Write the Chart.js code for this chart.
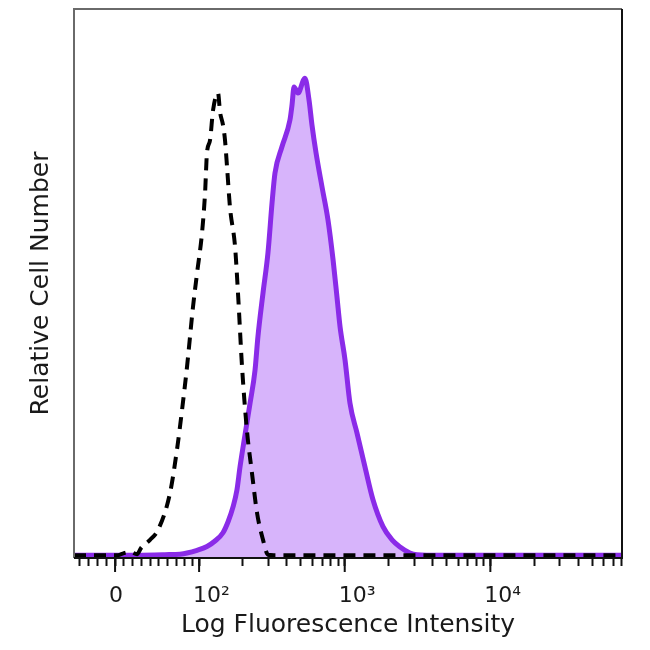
<!DOCTYPE html>
<html>
<head>
<meta charset="utf-8">
<script src="https://cdn.jsdelivr.net/npm/chart.js@4"></script>
<style>
html,body{margin:0;padding:0;background:#fff;}
#wrap{width:650px;height:650px;}
</style>
</head>
<body>
<div id="wrap"><canvas id="c" width="650" height="650"></canvas></div>
<script>
// ---- Data (x in display log units: 2 = 10^2, 3 = 10^3 ...; y = relative cell number) ----
const stainedX = [1.141, 1.574, 1.766, 1.869, 1.917, 1.986, 2.054, 2.109, 2.164, 2.199, 2.233, 2.260, 2.281, 2.315, 2.350, 2.384, 2.404, 2.439, 2.473, 2.501, 2.521, 2.569, 2.624, 2.638, 2.652, 2.679, 2.727, 2.755, 2.775, 2.803, 2.844, 2.885, 2.920, 2.947, 2.968, 3.002, 3.036, 3.084, 3.139, 3.194, 3.263, 3.325, 3.380, 3.448, 3.496, 3.654, 4.904];
const stainedY = [0.5, 0.5, 0.6, 0.7, 0.9, 1.4, 2.1, 3.1, 4.6, 6.6, 9.3, 12.4, 16.6, 22.4, 28.2, 34.2, 40.3, 48.3, 55.6, 64.7, 70.1, 74.9, 79.8, 82.5, 85.8, 84.7, 87.4, 83.4, 78.9, 73.8, 67.6, 61.6, 54.3, 47.5, 42.1, 36.1, 28.2, 22.8, 16.6, 10.6, 5.7, 3.3, 2.0, 0.9, 0.6, 0.5, 0.5];

const isotypeX = [1.141, 1.320, 1.443, 1.484, 1.526, 1.574, 1.601, 1.663, 1.718, 1.800, 1.848, 1.883, 1.917, 1.958, 1.986, 2.020, 2.041, 2.054, 2.075, 2.096, 2.130, 2.144, 2.164, 2.178, 2.192, 2.212, 2.247, 2.267, 2.295, 2.329, 2.363, 2.398, 2.439, 2.473, 2.514, 4.904];
const isotypeY = [0.5, 0.5, 0.5, 0.9, 1.1, 0.7, 1.8, 3.3, 5.1, 11.8, 19.7, 27.0, 34.8, 45.7, 51.9, 59.2, 66.5, 73.8, 76.1, 81.6, 84.7, 81.2, 78.9, 76.1, 71.2, 63.9, 56.7, 48.3, 34.8, 23.1, 15.5, 8.2, 3.3, 0.6, 0.5, 0.5];

// ---- Tick labels (fluorescence values) ----
const majorTickValues = [0, 100, 1000, 10000];
const majorTickLabels = ['0', '10²', '10³', '10⁴'];
const minorTickValues = [-40, -30, -20, -10, 10, 20, 30, 40, 50, 60, 70, 80, 90,
  200, 300, 400, 500, 600, 700, 800, 900,
  2000, 3000, 4000, 5000, 6000, 7000, 8000, 9000,
  20000, 30000, 40000, 50000, 60000, 70000, 80000];

const X_MIN = 1.141, X_MAX = 4.904;
const Y_MIN = 0, Y_MAX = 100;

// hybrid linear/log display transform (linear near zero, log above)
const V1 = 72;
function toAxis(v) {
  return v >= V1 ? Math.log10(v) : Math.log10(V1) - Math.LOG10E + v / (V1 * Math.LN10);
}

const tickDefs = majorTickValues.map((v, i) => ({value: toAxis(v), label: majorTickLabels[i], major: true}))
  .concat(minorTickValues.map(v => ({value: toAxis(v), label: '', major: false})));

const toPts = (xs, ys) => xs.map((x, i) => ({x: x, y: ys[i]}));

const FONT = 'DejaVu Sans';
const TEXT = '#1a1a1a';

const framePlugin = {
  id: 'frame',
  afterDraw(chart) {
    const {ctx, chartArea: a, scales: {x}} = chart;
    ctx.save();
    ctx.lineWidth = 2;
    ctx.strokeStyle = '#6a6a6a';
    ctx.beginPath();
    ctx.moveTo(a.left, a.bottom);
    ctx.lineTo(a.left, a.top);
    ctx.lineTo(a.right, a.top);
    ctx.stroke();
    ctx.strokeStyle = '#111';
    ctx.beginPath();
    ctx.moveTo(a.right, a.top);
    ctx.lineTo(a.right, a.bottom);
    ctx.lineTo(a.left, a.bottom);
    ctx.stroke();
    x.ticks.forEach(t => {
      if (t.major) {
        const px = x.getPixelForValue(t.value);
        ctx.beginPath();
        ctx.moveTo(px, a.bottom);
        ctx.lineTo(px, a.bottom + 14);
        ctx.stroke();
      }
    });
    ctx.restore();
  }
};

new Chart(document.getElementById('c'), {
  type: 'line',
  data: {
    datasets: [
      {
        label: 'Isotype control',
        data: toPts(isotypeX, isotypeY),
        borderColor: '#000',
        borderWidth: 4,
        borderDash: [12, 8],
        fill: false,
        pointRadius: 0,
        cubicInterpolationMode: 'monotone'
      },
      {
        label: 'Stained',
        data: toPts(stainedX, stainedY),
        borderColor: '#8a2be8',
        backgroundColor: '#d7b4fb',
        borderWidth: 5,
        fill: 'origin',
        pointRadius: 0,
        cubicInterpolationMode: 'monotone'
      }
    ]
  },
  options: {
    responsive: false,
    devicePixelRatio: 1,
    animation: false,
    layout: {padding: {top: 9, right: 28, left: 0, bottom: 0}},
    plugins: {legend: {display: false}, tooltip: {enabled: false}},
    scales: {
      x: {
        type: 'linear',
        min: X_MIN,
        max: X_MAX,
        afterBuildTicks: s => { s.ticks = tickDefs.map(t => ({value: t.value, major: t.major})); },
        ticks: {
          autoSkip: false,
          maxRotation: 0,
          align: 'start',
          labelOffset: -6,
          padding: 17,
          font: {family: FONT, size: 22},
          color: TEXT,
          callback: (val, i) => tickDefs[i] ? tickDefs[i].label : ''
        },
        grid: {display: true, drawOnChartArea: false, drawTicks: true, tickLength: 8, tickWidth: 2, tickColor: '#111'},
        border: {display: false},
        title: {display: true, text: 'Log Fluorescence Intensity', font: {family: FONT, size: 25}, color: TEXT, padding: {top: 0, bottom: 10}},
        afterFit: s => { s.height = 92; }
      },
      y: {
        min: Y_MIN,
        max: Y_MAX,
        ticks: {display: false},
        grid: {display: false},
        border: {display: false},
        title: {display: true, text: 'Relative Cell Number', font: {family: FONT, size: 25}, color: TEXT, padding: {top: 26, bottom: 0}},
        afterFit: s => { s.width = 74; }
      }
    }
  },
  plugins: [framePlugin]
});
</script>
</body>
</html>
